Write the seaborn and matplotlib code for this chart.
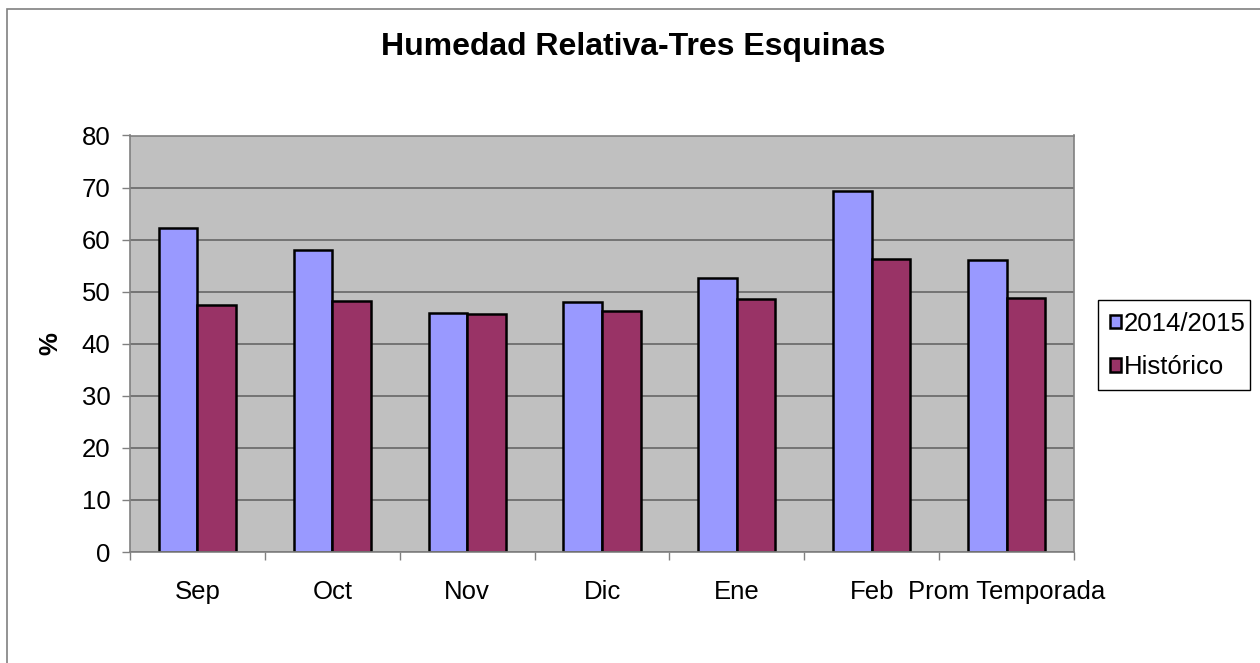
import matplotlib
matplotlib.use("Agg")
import matplotlib.pyplot as plt
import pandas as pd
import seaborn as sns
from matplotlib.patches import Rectangle

meses = ["Sep", "Oct", "Nov", "Dic", "Ene", "Feb", "Prom Temporada"]
temporada = [62.3, 58.1, 45.9, 48.1, 52.7, 69.4, 56.0]
historico = [47.4, 48.2, 45.8, 46.3, 48.5, 56.2, 48.8]
series = ["2014/2015", "Histórico"]
yticks = [0, 10, 20, 30, 40, 50, 60, 70, 80]

df = pd.DataFrame({
    "mes": meses * 2,
    "serie": [series[0]] * len(meses) + [series[1]] * len(meses),
    "valor": temporada + historico,
})

sns.set_theme(style="white")
plt.rcParams["font.family"] = ["Liberation Sans", "DejaVu Sans"]
plt.rcParams["text.color"] = "black"

W, H = 1260, 663
fig = plt.figure(figsize=(W / 100, H / 100), dpi=100)
ax = fig.add_axes([130 / W, 1 - 552 / H, (1074 - 130) / W, (552 - 135.5) / H])
ax.set_facecolor("#C0C0C0")

sns.barplot(data=df, x="mes", y="valor", hue="serie", order=meses, hue_order=series,
            palette=["#9999FF", "#993366"], saturation=1, edgecolor="black", linewidth=1.8,
            width=0.571, gap=0, ax=ax)

ax.set_ylim(0, 80)
ax.set_xlim(-0.5, len(meses) - 0.5)
ax.set_yticks(yticks)
ax.yaxis.grid(True, color="#666666", linewidth=1.2)
ax.set_axisbelow(True)
for s in ax.spines.values():
    s.set_color("#808080")
    s.set_linewidth(1.2)

ax.set_xlabel("")
ax.set_ylabel("")
ax.tick_params(axis="y", which="major", length=6, width=1, color="#808080",
               direction="out", pad=8, labelsize=18.5, labelcolor="black", left=True)
ax.tick_params(axis="x", which="major", length=0, pad=20, labelsize=18.5, labelcolor="black")
ax.set_xticks([i - 0.5 for i in range(len(meses) + 1)], minor=True)
ax.tick_params(axis="x", which="minor", length=6, width=1, color="#808080",
               direction="out", bottom=True)

handles, labels = ax.get_legend_handles_labels()
ax.legend(handles, labels, loc="upper left",
          bbox_to_anchor=(1098 / W, 1 - 387 / H, (1250 - 1098) / W, (387 - 300) / H),
          bbox_transform=fig.transFigure, mode="expand",
          fontsize=18.5, frameon=True, fancybox=False, edgecolor="black",
          framealpha=1, handlelength=0.45, handleheight=0.45, handletextpad=0.1,
          borderpad=0.45, labelspacing=0.75, borderaxespad=0)
ax.get_legend().get_frame().set_linewidth(1.0)

fig.text(633 / W, 1 - 47 / H, "Humedad Relativa-Tres Esquinas", ha="center", va="center",
         fontsize=23, fontweight="bold", color="black")
fig.text(50 / W, 1 - 344 / H, "%", ha="center", va="center", rotation=90,
         fontsize=18.5, fontweight="bold", color="black")

fig.patches.append(Rectangle((7 / W, -0.1), 1.2, 1 - 9 / H + 0.1, transform=fig.transFigure,
                             fill=False, edgecolor="#808080", linewidth=1.2))

fig.savefig("out.png", dpi=100)
